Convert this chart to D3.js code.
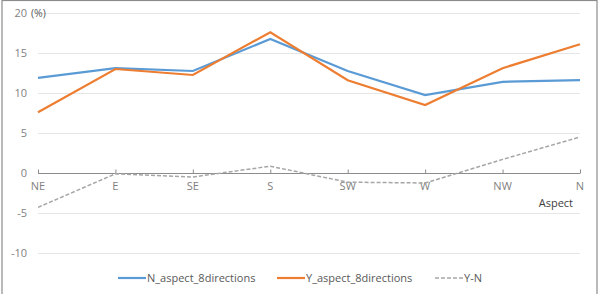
<!DOCTYPE html>
<html>
<head>
<meta charset="utf-8">
<script src="https://cdn.jsdelivr.net/npm/d3@7"></script>
<style>
body { margin: 0; background: #fff; }
text { font-family: "Open Sans", "Noto Sans", sans-serif; fill: #595959; }
</style>
</head>
<body>
<script>
const width = 604;
const height = 294;
const margin = {"left":38,"right":24,"top":13,"bottom":41}

const aspects = ["NE","E","SE","S","SW","W","NW","N"];
const nAspect = [11.9,13.1,12.75,16.75,12.75,9.75,11.4,11.6];
const yAspect = [7.6,13.0,12.25,17.6,11.6,8.5,13.1,16.1];
const yMinusN = [-4.3,-0.1,-0.5,0.85,-1.15,-1.25,1.7,4.5];
const yTicks = [-10,-5,0,5,10,15,20];

const svg = d3.select("body").append("svg").attr("width",width).attr("height",height);

// frame
svg.append("rect").attr("x",2).attr("y",0.5).attr("width",595).attr("height",300)
.attr("fill","none").attr("stroke","#8c8c8c").attr("stroke-width",1.2);

const xScale = d3.scalePoint().domain(aspects).range([margin.left,580]);
const yScale = d3.scaleLinear().domain([-10,20]).range([253,13]);

// gridlines
svg.append("g").selectAll("line").data(yTicks.filter(d=>d!==0)).enter()
.append("line")
.attr("x1",margin.left).attr("x2",580)
.attr("y1",d=>Math.round(yScale(d))+0.5).attr("y2",d=>Math.round(yScale(d))+0.5)
.attr("stroke","#e6e6e6").attr("stroke-width",1);

// y labels
svg.append("g").selectAll("text").data(yTicks).enter()
.append("text")
.attr("x",27).attr("y",d=>yScale(d)+4)
.attr("text-anchor","end").attr("font-size",11)
.style("fill","#7f7f7f")
.text(d=>d);

svg.append("text").attr("x",31).attr("y",yScale(20)+4).attr("font-size",10.5).text("(%)");

// x axis at zero
const xAxis = d3.axisTop(xScale).tickSize(4).tickFormat("");
const xg = svg.append("g").attr("transform",`translate(0,${yScale(0)+0.5})`).call(xAxis);
xg.select(".domain").attr("stroke","#8c8c8c").attr("d",`M${margin.left},0H580`);
xg.selectAll(".tick line").attr("stroke","#8c8c8c");

svg.append("g").selectAll("text").data(aspects).enter()
.append("text")
.attr("x",d=>xScale(d)).attr("y",yScale(0)+17)
.attr("text-anchor","middle").attr("font-size",11)
.style("fill","#7f7f7f")
.text(d=>d);

svg.append("text").attr("x",573).attr("y",207).attr("text-anchor","end")
.attr("font-size",11).style("fill","#404040").text("Aspect");

const line = d3.line().x((d,i)=>xScale(aspects[i])).y(d=>yScale(d));

svg.append("path").datum(yMinusN).attr("d",line).attr("fill","none")
.attr("stroke","#a6a6a6").attr("stroke-width",1.5).attr("stroke-dasharray","4,2");
svg.append("path").datum(nAspect).attr("d",line).attr("fill","none")
.attr("stroke","#5b9bd5").attr("stroke-width",2.2);
svg.append("path").datum(yAspect).attr("d",line).attr("fill","none")
.attr("stroke","#ed7d31").attr("stroke-width",2.2);

// legend
const legend = [
  {name:"N_aspect_8directions",color:"#5b9bd5",dash:null,x:118},
  {name:"Y_aspect_8directions",color:"#ed7d31",dash:null,x:277},
  {name:"Y-N",color:"#a6a6a6",dash:"4,2",x:435}
];
const lg = svg.append("g").selectAll("g").data(legend).enter().append("g");
lg.append("line").attr("x1",d=>d.x).attr("x2",d=>d.x+28).attr("y1",278).attr("y2",278)
.attr("stroke",d=>d.color).attr("stroke-width",d=>d.dash?1.5:2.2)
.attr("stroke-dasharray",d=>d.dash);
lg.append("text").attr("x",d=>d.x+29).attr("y",282).attr("font-size",11).text(d=>d.name);
</script>
</body>
</html>
